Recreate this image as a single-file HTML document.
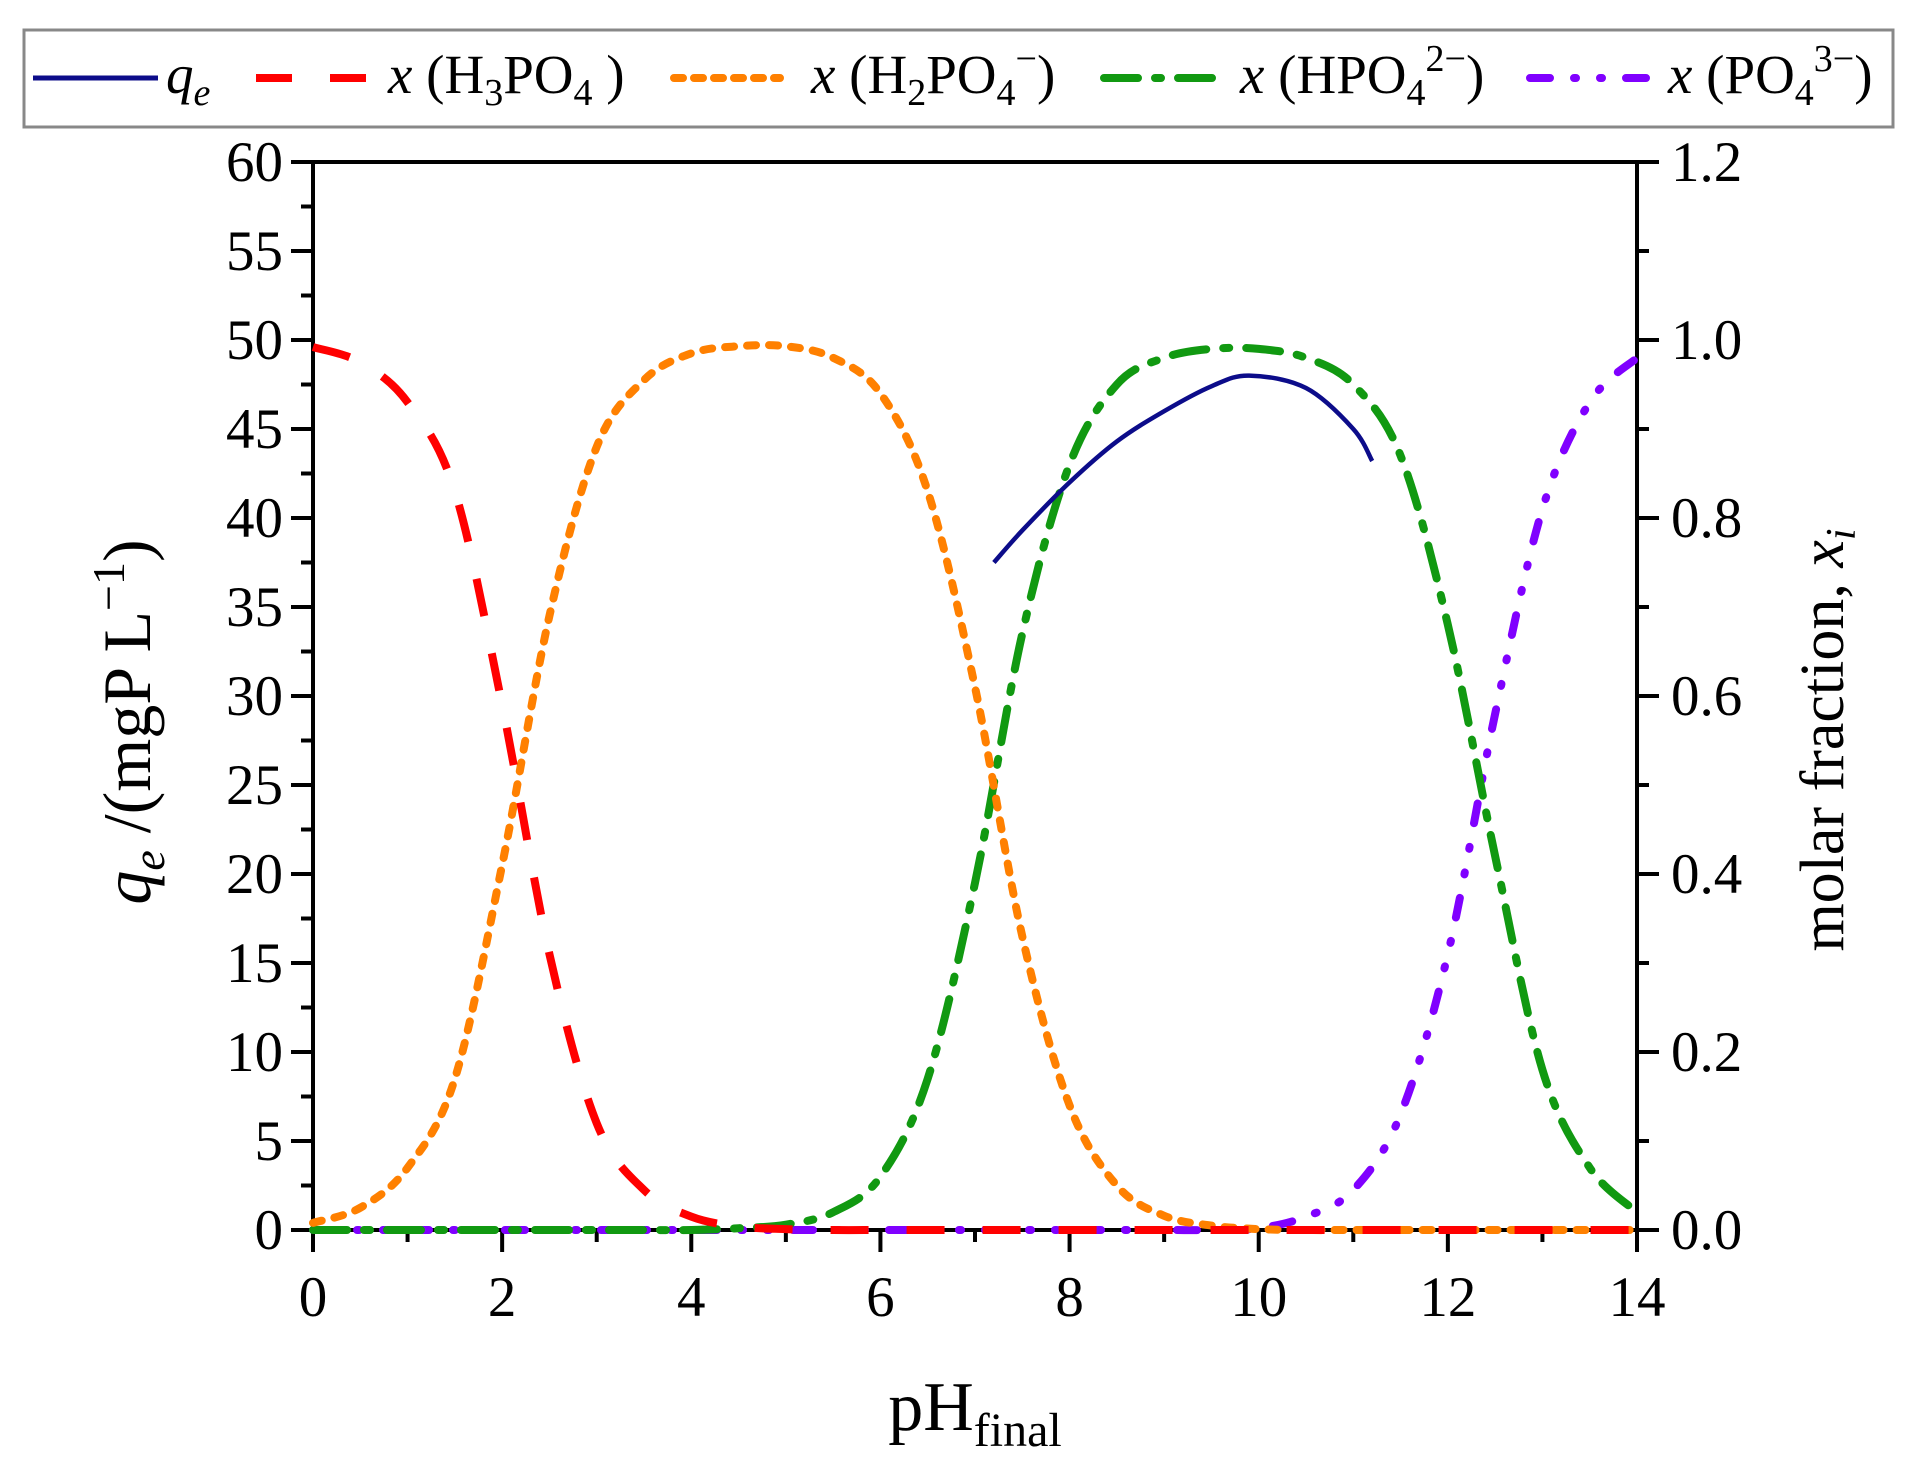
<!DOCTYPE html>
<html><head><meta charset="utf-8"><style>
html,body{margin:0;padding:0;background:#fff;}
svg{display:block;}
svg text{font-family:"Liberation Serif","Times New Roman",serif;}
</style></head><body>
<svg id="chart" width="1912" height="1472" viewBox="0 0 1912 1472" font-family="Liberation Serif, Times New Roman, serif">
<g>
<rect x="24" y="30" width="1869" height="97" fill="#fff" stroke="#888" stroke-width="3"/>
<g><line x1="33" y1="78" x2="158" y2="78" stroke="#0c0c8a" stroke-width="5"/><text x="166" y="93" font-size="55" font-style="italic">q<tspan font-size="38" dy="12">e</tspan></text></g>
<g><line x1="256" y1="78" x2="366" y2="78" stroke="#ff0000" stroke-width="8" stroke-dasharray="36 38"/><text x="388" y="93" font-size="55"><tspan font-style="italic">x</tspan> (H<tspan font-size="38" dy="12">3</tspan><tspan dy="-12">PO</tspan><tspan font-size="38" dy="12">4</tspan><tspan dy="-12"> )</tspan></text></g>
<g><line x1="674" y1="78" x2="780" y2="78" stroke="#ff8000" stroke-width="8" stroke-dasharray="9 11" stroke-linecap="round"/><text x="811" y="93" font-size="55"><tspan font-style="italic">x</tspan> (H<tspan font-size="38" dy="12">2</tspan><tspan dy="-12">PO</tspan><tspan font-size="38" dy="12">4</tspan><tspan font-size="38" dy="-34">−</tspan><tspan dy="22">)</tspan></text></g>
<g><line x1="1104" y1="78" x2="1232" y2="78" stroke="#119911" stroke-width="8" stroke-dasharray="34 17 6 17 34" stroke-linecap="round"/><text x="1240" y="93" font-size="55"><tspan font-style="italic">x</tspan> (HPO<tspan font-size="38" dy="12">4</tspan><tspan font-size="38" dy="-34">2−</tspan><tspan dy="22">)</tspan></text></g>
<g><line x1="1530" y1="78" x2="1664" y2="78" stroke="#8000ff" stroke-width="8" stroke-dasharray="20 24 2 24 2 24 20" stroke-linecap="round"/><text x="1668" y="93" font-size="55"><tspan font-style="italic">x</tspan> (PO<tspan font-size="38" dy="12">4</tspan><tspan font-size="38" dy="-34">3−</tspan><tspan dy="22">)</tspan></text></g>
</g>
<g id="axes"></g>
<g id="series"></g>
<text x="0" y="0" transform="translate(150,722) rotate(-90)" text-anchor="middle" font-size="68"><tspan font-style="italic">q<tspan font-size="46" dy="14">e</tspan></tspan><tspan dy="-14"> /(mgP L</tspan><tspan font-size="46" dy="-26">−1</tspan><tspan dy="26">)</tspan></text>
<text x="0" y="0" transform="translate(1843,740) rotate(-90)" text-anchor="middle" font-size="62">molar fraction, <tspan font-style="italic">x<tspan font-size="42" dy="12">i</tspan></tspan></text>
<text x="975" y="1430" text-anchor="middle" font-size="70">pH<tspan font-size="48" dy="16">final</tspan></text>
</svg>
<script>
const pH = [0,0.5,1,1.5,2,2.5,3,3.5,4,4.5,5,5.5,6,6.5,7,7.5,8,8.5,9,9.5,10,10.5,11,11.5,12,12.5,13,13.5,14];
const xH3PO4 = [0.992,0.975,0.93,0.83,0.59,0.31,0.12,0.045,0.015,0.004,0.001,0,0,0,0,0,0,0,0,0,0,0,0,0,0,0,0,0,0];
const xH2PO4 = [0.008,0.025,0.07,0.17,0.41,0.69,0.88,0.955,0.985,0.993,0.993,0.98,0.94,0.83,0.61,0.33,0.14,0.05,0.016,0.005,0.001,0,0,0,0,0,0,0,0];
const xHPO4 = [0,0,0,0,0,0,0,0,0,0.002,0.006,0.02,0.06,0.17,0.39,0.67,0.86,0.95,0.98,0.99,0.99,0.98,0.95,0.87,0.68,0.42,0.18,0.07,0.02];
const xPO4 = [0,0,0,0,0,0,0,0,0,0,0,0,0,0,0,0,0,0,0,0,0.002,0.015,0.045,0.13,0.31,0.58,0.81,0.93,0.98];
const qePH = [7.2,7.5,8,8.5,9,9.5,9.9,10.5,11,11.2];
const qeVal = [37.5,39.3,42,44.3,46,47.4,48,47.3,45,43.2];
const xTicks = [0,2,4,6,8,10,12,14];
const yLeftTicks = [0,5,10,15,20,25,30,35,40,45,50,55,60];
const yRightTicks = ['0.0','0.2','0.4','0.6','0.8','1.0','1.2'];

const L=313,R=1637,T=162,B=1230;
const sx=v=>L+(v/14)*(R-L);
const syL=v=>B-(v/60)*(B-T);
const syR=v=>B-(v/1.2)*(B-T);
const NS='http://www.w3.org/2000/svg';
function mk(tag,attrs,parent){const e=document.createElementNS(NS,tag);for(const k in attrs)e.setAttribute(k,attrs[k]);parent.appendChild(e);return e;}
const ax=document.getElementById('axes');
const frame=mk('rect',{x:L,y:T,width:R-L,height:B-T,fill:'none',stroke:'#000',"stroke-width":4},ax);


for(let v=0;v<=14;v+=1){const major=v%2===0;const t=mk('line',{x1:sx(v),x2:sx(v),y1:B,y2:B+(major?22:12),stroke:'#000',"stroke-width":4},ax);

}
xTicks.forEach(v=>{const t=mk('text',{x:sx(v),y:B+86,"text-anchor":"middle","font-size":57},ax);t.textContent=v;

});
for(let v=0;v<=60;v+=2.5){const major=v%5===0;const t=mk('line',{x1:L-(major?22:12),x2:L,y1:syL(v),y2:syL(v),stroke:'#000',"stroke-width":4},ax);

}
yLeftTicks.forEach(v=>{const t=mk('text',{x:L-30,y:syL(v)+19,"text-anchor":"end","font-size":57},ax);t.textContent=v;

});
for(let i=0;i<=12;i++){const v=i*0.1;const major=i%2===0;const t=mk('line',{x1:R,x2:R+(major?22:12),y1:syR(v),y2:syR(v),stroke:'#000',"stroke-width":4},ax);

}
yRightTicks.forEach(s=>{const t=mk('text',{x:R+34,y:syR(parseFloat(s))+19,"text-anchor":"start","font-size":57},ax);t.textContent=s;

});

function smooth(pts){let d='M'+pts[0][0]+','+pts[0][1];for(let i=0;i<pts.length-1;i++){const p0=pts[Math.max(0,i-1)],p1=pts[i],p2=pts[i+1],p3=pts[Math.min(pts.length-1,i+2)];
const c1=[p1[0]+(p2[0]-p0[0])/6,p1[1]+(p2[1]-p0[1])/6],c2=[p2[0]-(p3[0]-p1[0])/6,p2[1]-(p3[1]-p1[1])/6];
d+=' C'+c1[0]+','+c1[1]+' '+c2[0]+','+c2[1]+' '+p2[0]+','+p2[1];}return d;}
const sg=document.getElementById('series');
function frac(vals,color,dash,name,cap){const pts=pH.map((p,i)=>[sx(p),syR(vals[i])]);
const e=mk('path',{d:smooth(pts),fill:'none',stroke:color,"stroke-width":8,"stroke-dasharray":dash,"stroke-linecap":cap},sg);

}
frac(xPO4,'#8000ff','20 24 2 24 2 24','series-po4','round');
frac(xHPO4,'#119911','34 17 6 17','series-hpo4','round');
frac(xH2PO4,'#ff8000','9 13','series-h2po4','round');
frac(xH3PO4,'#ff0000','38 38','series-h3po4','butt');
const qp=mk('path',{d:smooth(qePH.map((p,i)=>[sx(p),syL(qeVal[i])])),fill:'none',stroke:'#0c0c8a',"stroke-width":4.5},sg);


</script>
</body></html>
